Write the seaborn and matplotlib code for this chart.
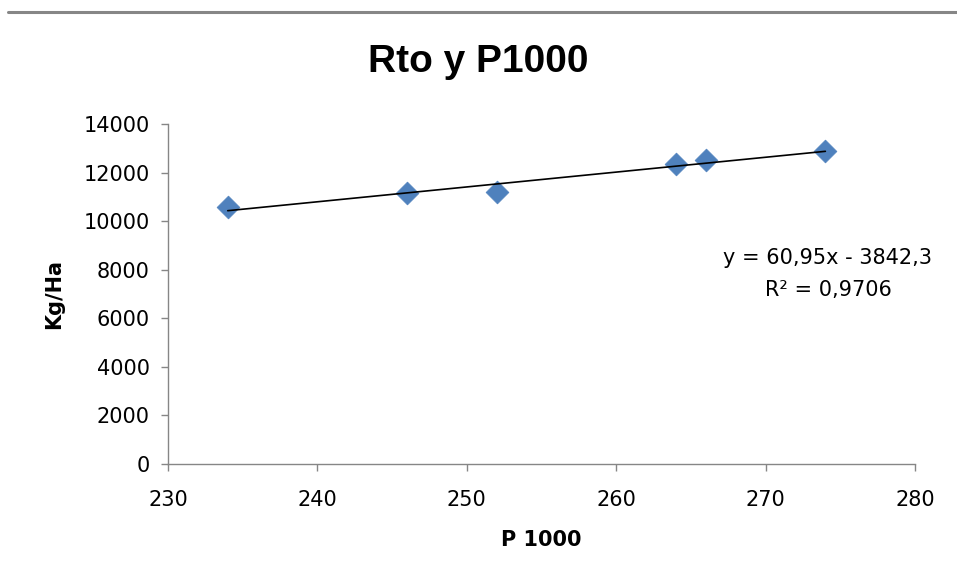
import matplotlib
matplotlib.use("Agg")
import matplotlib.pyplot as plt
from matplotlib.lines import Line2D
import seaborn as sns
import pandas as pd
import numpy as np

# Data
p1000 = [234, 246, 252, 264, 266, 274]
kg_ha = [10580, 11150, 11200, 12340, 12500, 12880]
x_ticks = [230, 240, 250, 260, 270, 280]
y_ticks = [0, 2000, 4000, 6000, 8000, 10000, 12000, 14000]
title = "Rto y P1000"
x_label = "P 1000"
y_label = "Kg/Ha"
eq_text = "y = 60,95x - 3842,3"
r2_text = "R² = 0,9706"

df = pd.DataFrame({"P1000": p1000, "KgHa": kg_ha})

sns.set_theme(style="white")
plt.rcParams['font.family'] = ['DejaVu Sans']
plt.rcParams['text.color'] = 'black'
plt.rcParams['axes.labelcolor'] = 'black'

fig = plt.figure(figsize=(9.57, 5.82), dpi=100)
ax = fig.add_axes([168/957, 1-464/582, (915-168)/957, (464-124)/582])

gray = "#868686"
blue = "#4F81BD"

sns.regplot(data=df, x="P1000", y="KgHa", ax=ax, ci=None, truncate=True,
            marker="D",
            scatter_kws=dict(s=135, color=blue, edgecolors=blue, linewidths=0.5,
                             alpha=1.0, zorder=3),
            line_kws=dict(color="black", lw=1.2, zorder=4))

ax.set_xlim(230, 280)
ax.set_ylim(0, 14000)
ax.set_xticks(x_ticks)
ax.set_yticks(y_ticks)
ax.set_xticklabels([str(t) for t in x_ticks])
ax.set_yticklabels([str(t) for t in y_ticks])

for s in ["top", "right"]:
    ax.spines[s].set_visible(False)
for s in ["left", "bottom"]:
    ax.spines[s].set_color(gray)
    ax.spines[s].set_linewidth(1.0)

ax.tick_params(axis="both", which="major", direction="out", length=5, width=1,
               color=gray, labelsize=15, labelcolor="black", pad=6)
ax.tick_params(axis="x", pad=14, bottom=True)
ax.tick_params(axis="y", pad=8, left=True)

ax.set_xlabel(x_label, fontsize=15, fontweight="bold", labelpad=14, color="black")
ax.set_ylabel(y_label, fontsize=15, fontweight="bold", labelpad=14, color="black")

fig.text(478/957, 1-62/582, title, ha="center", va="center", color="black",
         fontsize=28, fontweight="bold", family=["Liberation Sans", "DejaVu Sans"])

ax.text(0.8835, 0.606, eq_text, transform=ax.transAxes, ha="center", va="center",
        fontsize=15, color="black")
ax.text(0.8835, 0.512, r2_text, transform=ax.transAxes, ha="center", va="center",
        fontsize=15, color="black")

fig.add_artist(Line2D([8/957, 1.0], [1-11.5/582, 1-11.5/582], color=gray, lw=2.2,
                      transform=fig.transFigure))

fig.savefig("out.png", dpi=100, facecolor="white")
